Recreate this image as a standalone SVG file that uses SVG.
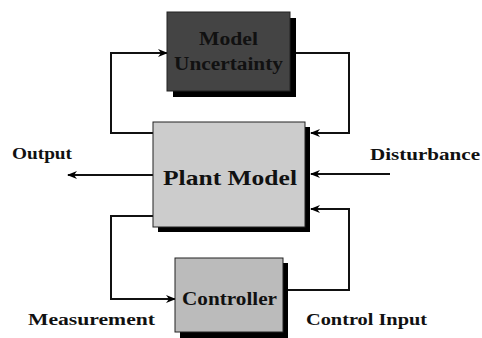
<svg xmlns="http://www.w3.org/2000/svg" width="482" height="338" viewBox="0 0 482 338">
  <defs>
    <marker id="arrow" markerWidth="10" markerHeight="8" refX="9" refY="4" orient="auto" markerUnits="userSpaceOnUse">
      <path d="M0,0 L10,4 L0,8 L3,4 Z" fill="#000"/>
    </marker>
  </defs>
  <style>
    .shadow { fill: #000; }
    .box { stroke: #222; stroke-width: 1; }
    .label { font-family: "Liberation Serif", "Times New Roman", serif; font-weight: bold; fill: #111; }
    .wire { fill: none; stroke: #111; stroke-width: 2; stroke-linejoin: miter; }
  </style>
  <rect width="482" height="338" fill="#fff"/>

  <!-- feedback and signal lines -->
  <g id="connectors">
    <!-- plant left side up into uncertainty block -->
    <path class="wire" d="M153,133 H111 V53 H167" marker-end="url(#arrow)"/>
    <!-- uncertainty block back into plant -->
    <path class="wire" d="M296,53 H349 V133 H311" marker-end="url(#arrow)"/>
    <!-- output -->
    <path class="wire" d="M153,175 H68" marker-end="url(#arrow)"/>
    <!-- disturbance -->
    <path class="wire" d="M390,174 H311" marker-end="url(#arrow)"/>
    <!-- measurement to controller -->
    <path class="wire" d="M153,216 H111 V299 H175" marker-end="url(#arrow)"/>
    <!-- control input back into plant -->
    <path class="wire" d="M288,290 H349 V209 H311" marker-end="url(#arrow)"/>
  </g>

  <g id="model-uncertainty">
    <rect class="shadow" x="173" y="18" width="123" height="79"/>
    <rect class="box" x="167" y="12" width="123" height="79" fill="#444"/>
    <text class="label" x="228.5" y="45" font-size="18" text-anchor="middle" textLength="59" lengthAdjust="spacingAndGlyphs">Model</text>
    <text class="label" x="228.5" y="70" font-size="18" text-anchor="middle" textLength="109" lengthAdjust="spacingAndGlyphs">Uncertainty</text>
  </g>

  <g id="plant-model">
    <rect class="shadow" x="158" y="127" width="152" height="105"/>
    <rect class="box" x="153" y="122" width="152" height="105" fill="#cccccc"/>
    <text class="label" x="230" y="185" font-size="22" text-anchor="middle" textLength="134" lengthAdjust="spacingAndGlyphs">Plant Model</text>
  </g>

  <g id="controller">
    <rect class="shadow" x="180" y="263" width="108" height="75"/>
    <rect class="box" x="175" y="258" width="108" height="74" fill="#bbbbbb"/>
    <text class="label" x="229.5" y="305" font-size="18" text-anchor="middle" textLength="95" lengthAdjust="spacingAndGlyphs">Controller</text>
  </g>

  <g id="labels">
    <text class="label" x="12" y="159" font-size="17" textLength="60" lengthAdjust="spacingAndGlyphs">Output</text>
    <text class="label" x="370" y="160" font-size="17" textLength="110" lengthAdjust="spacingAndGlyphs">Disturbance</text>
    <text class="label" x="28" y="325" font-size="17" textLength="127" lengthAdjust="spacingAndGlyphs">Measurement</text>
    <text class="label" x="306" y="325" font-size="17" textLength="121" lengthAdjust="spacingAndGlyphs">Control Input</text>
  </g>
</svg>
